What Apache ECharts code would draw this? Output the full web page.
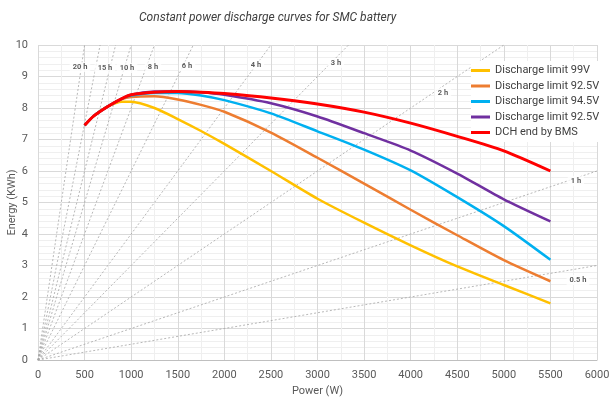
<!DOCTYPE html>
<html>
<head>
<meta charset="utf-8">
<script src="https://cdn.jsdelivr.net/npm/echarts@6/dist/echarts.min.js"></script>
<style>
  html, body { margin: 0; padding: 0; background: #fff; }
  #chart { width: 611px; height: 400px; }
</style>
</head>
<body>
<div id="chart"></div>
<script>
// 功率点 (W)
const POWER = [500, 600, 750, 900, 1000, 1250, 1500, 1750, 2000, 2500, 3000, 3500, 4000, 4500, 5000, 5500];

// 各放电条件下的能量 (kWh)
const LIMIT_99V   = [7.45, 7.75, 8.05, 8.2, 8.2, 8.0, 7.65, 7.27, 6.86, 6.0, 5.12, 4.36, 3.64, 2.97, 2.38, 1.8];
const LIMIT_925V  = [7.45, 7.75, 8.05, 8.28, 8.35, 8.37, 8.27, 8.1, 7.88, 7.22, 6.42, 5.6, 4.77, 3.96, 3.17, 2.5];
const LIMIT_945V  = [7.45, 7.75, 8.05, 8.3, 8.4, 8.48, 8.48, 8.4, 8.25, 7.83, 7.26, 6.68, 6.02, 5.17, 4.25, 3.18];
const LIMIT_925VB = [7.45, 7.75, 8.05, 8.3, 8.42, 8.52, 8.53, 8.5, 8.42, 8.15, 7.73, 7.2, 6.65, 5.92, 5.1, 4.4];
const BMS_END     = [7.45, 7.75, 8.05, 8.3, 8.42, 8.5, 8.52, 8.5, 8.46, 8.32, 8.13, 7.87, 7.52, 7.1, 6.64, 6.0];

// 恒定放电时长参考线 (h)
const HOURS = [20, 15, 12, 10, 8, 6, 4, 3, 2, 1, 0.5];
const HOUR_LABELS = ['20 h', '15 h', '', '10 h', '8 h', '6 h', '4 h', '3 h', '2 h', '1 h', '0.5 h'];
// 标注锚点 [W, kWh]
const HOUR_LABEL_AT = [[451, 9.3], [719, 9.27], null, [955, 9.27], [1234, 9.3], [1599, 9.33],
  [2340, 9.37], [3198, 9.43], [4347, 8.48], [5774, 5.68], [5796, 2.54]];

const X_MAX = 6000, Y_MAX = 10;

(function () {
  const chart = echarts.init(document.getElementById('chart'));
  const FONT = 'Roboto, "Noto Sans", sans-serif';

  const hourLines = HOURS.map(h => {
    // 线段从原点延伸到绘图区边界
    const pEnd = Math.min(X_MAX, Y_MAX * 1000 / h);
    return {
      type: 'line',
      silent: true,
      symbol: 'none',
      z: 1,
      lineStyle: { color: '#a6a6a6', width: 0.8, type: [2, 2] },
      data: [[0, 0], [pEnd, pEnd * h / 1000]]
    };
  });

  const labelData = HOUR_LABELS
    .map((t, i) => t && HOUR_LABEL_AT[i] ? { value: HOUR_LABEL_AT[i], name: t } : null)
    .filter(Boolean);

  const curve = (name, values, color, width) => ({
    name,
    type: 'line',
    symbol: 'none',
    smooth: 0.25,
    z: 5,
    lineStyle: { color, width },
    itemStyle: { color },
    data: POWER.map((p, i) => [p, values[i]])
  });

  const legendNames = ['Discharge limit 99V', 'Discharge limit 92.5V', 'Discharge limit 94.5V',
    'Discharge limit 92.5V\u200b', 'DCH end by BMS'];

  chart.setOption({
    animation: false,
    title: {
      text: 'Constant power discharge curves for SMC battery',
      left: 134,
      top: 7,
      textStyle: { fontFamily: FONT, fontSize: 12, fontStyle: 'italic', fontWeight: 'normal', color: '#404040' }
    },
    legend: {
      orient: 'vertical',
      left: 471,
      top: 61,
      backgroundColor: '#fff',
      padding: [3, 6, 3, 0],
      icon: 'rect',
      itemWidth: 19,
      itemHeight: 3,
      itemGap: 2.5,
      textStyle: { fontFamily: FONT, fontSize: 11, color: '#404040', lineHeight: 13 },
      data: legendNames
    },
    grid: { left: 38, right: 14, top: 45, bottom: 40, outerBoundsMode: 'none' },
    xAxis: {
      type: 'value',
      min: 0, max: X_MAX, interval: 500,
      name: 'Power (W)',
      nameLocation: 'middle',
      nameGap: 26,
      nameMoveOverlap: false,
      nameTextStyle: { fontFamily: FONT, fontSize: 11, color: '#595959' },
      axisLine: { show: true, lineStyle: { color: '#bfbfbf' } },
      axisTick: { show: false },
      axisLabel: { fontFamily: FONT, fontSize: 11, color: '#595959', margin: 10, formatter: v => String(v) },
      splitLine: { show: true, lineStyle: { color: '#d9d9d9', width: 1 } },
      minorSplitLine: { show: true, lineStyle: { color: '#efefef' } },
      minorTick: { show: false, splitNumber: 2 }
    },
    yAxis: {
      type: 'value',
      min: 0, max: Y_MAX, interval: 1,
      name: 'Energy (KWh)',
      nameLocation: 'middle',
      nameGap: 20,
      nameMoveOverlap: false,
      nameTextStyle: { fontFamily: FONT, fontSize: 11, color: '#595959' },
      axisLine: { show: false },
      axisTick: { show: false },
      axisLabel: { fontFamily: FONT, fontSize: 11, color: '#595959', margin: 10, formatter: v => String(v) },
      splitLine: { show: true, lineStyle: { color: '#d9d9d9', width: 1 } },
      minorSplitLine: { show: true, lineStyle: { color: '#efefef' } },
      minorTick: { show: false, splitNumber: 5 }
    },
    series: [
      ...hourLines,
      {
        type: 'scatter',
        silent: true,
        symbolSize: 0,
        z: 3,
        data: labelData,
        label: {
          show: true,
          position: 'inside',
          formatter: p => p.name,
          fontFamily: FONT,
          fontSize: 7.5,
          fontWeight: 'bold',
          color: '#333',
          backgroundColor: '#fff',
          padding: [1, 3]
        }
      },
      curve(legendNames[0], LIMIT_99V, '#FFC000', 2.5),
      curve(legendNames[1], LIMIT_925V, '#ED7D31', 2.5),
      curve(legendNames[2], LIMIT_945V, '#00B0F0', 2.5),
      curve(legendNames[3], LIMIT_925VB, '#7030A0', 2.5),
      curve(legendNames[4], BMS_END, '#FF0000', 3)
    ]
  });
})();
</script>
</body>
</html>
